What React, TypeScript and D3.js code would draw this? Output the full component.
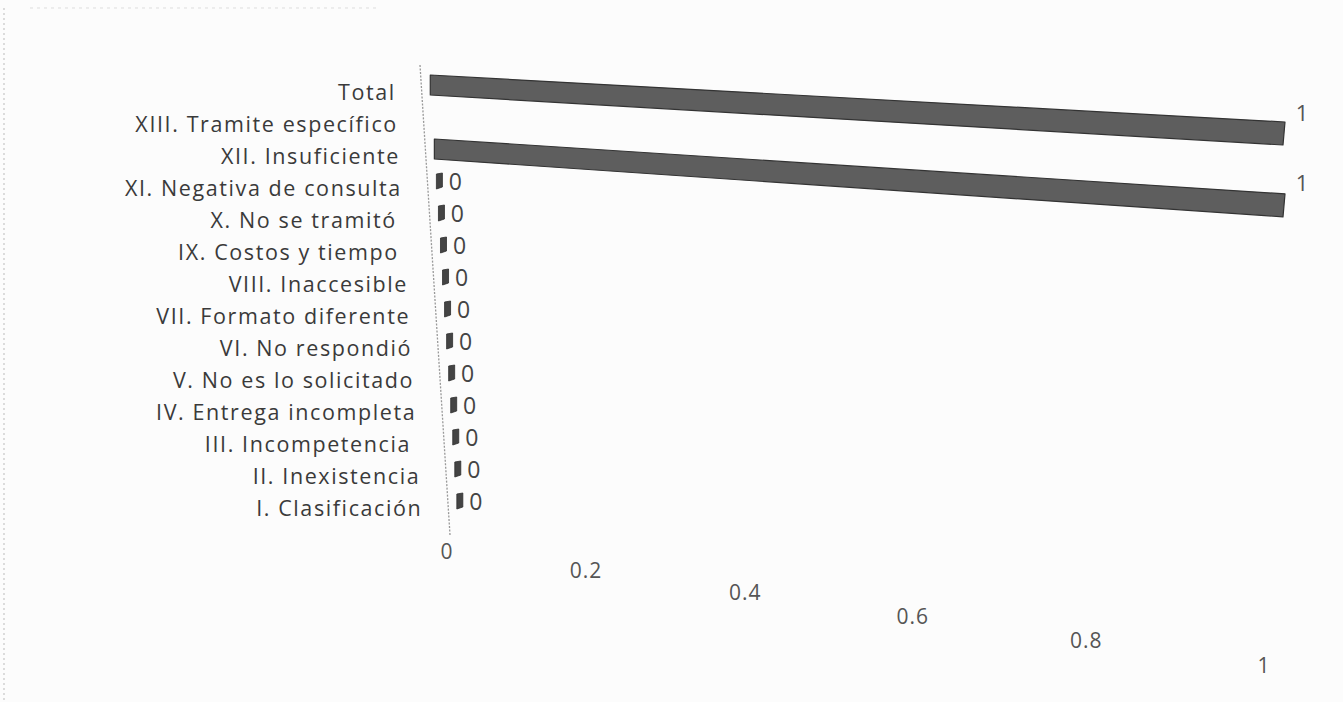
import React from "react";
import * as d3 from "d3";

const categories = [
  "Total",
  "XIII. Tramite específico",
  "XII. Insuficiente",
  "XI. Negativa de consulta",
  "X. No se tramitó ",
  "IX. Costos y tiempo ",
  "VIII. Inaccesible",
  "VII. Formato diferente",
  "VI. No respondió",
  "V. No es lo solicitado",
  "IV. Entrega incompleta",
  "III. Incompetencia ",
  "II. Inexistencia",
  "I. Clasificación",
];
const values: (number | null)[] = [1, null, 1, 0, 0, 0, 0, 0, 0, 0, 0, 0, 0, 0];
const tickValues = [0, 0.2, 0.4, 0.6, 0.8, 1];

const W = 1343;
const H = 702;

export default function App() {
  const y = d3.scalePoint<string>().domain(categories).range([85, 501]);
  const axisX = d3.scaleLinear().domain([65, 535]).range([420, 450]);
  const slopeAt = d3.scaleLinear().domain([85, 149]).range([0.055, 0.0645]);
  const barEnd = 1285;
  const barH = 20;

  const tickT = d3.scalePow().exponent(1.1).domain([0, 1]).range([0, 1]);
  const tickX = d3.scaleLinear().domain([0, 1]).range([447, 1264]);
  const tickY = d3.scaleLinear().domain([0, 1]).range([553, 667]);

  const font = "'Open Sans', 'DejaVu Sans', sans-serif";

  return (
    <div style={{ position: "absolute", left: 0, top: 0 }}>
      <svg width={W} height={H} style={{ display: "block", background: "#fcfcfc" }}>
        <line x1={4} y1={8} x2={4} y2={H} stroke="#bbb" strokeWidth={1} strokeDasharray="2 3" />
        <line x1={30} y1={8} x2={380} y2={8} stroke="#ddd" strokeWidth={1} strokeDasharray="3 4" />

        <line
          x1={axisX(65)}
          y1={65}
          x2={axisX(535)}
          y2={535}
          stroke="#999"
          strokeWidth={1.3}
          strokeDasharray="2 1.5"
        />

        {categories.map((c, i) => {
          const cy = y(c)!;
          const v = values[i];
          const left = axisX(cy) + 9;
          const xs = d3.scaleLinear().domain([0, 1]).range([left, barEnd]);
          const labelX = axisX(cy + 8) - 26;
          const elems: React.ReactNode[] = [
            <text
              key="lab"
              x={labelX}
              y={cy + 9}
              textAnchor="end"
              dominantBaseline="middle"
              fontFamily={font}
              fontSize={21.5}
              letterSpacing={1.6}
              fill="#3a3a3a"
              style={{ whiteSpace: "pre" }}
            >
              {c}
            </text>,
          ];
          if (v !== null) {
            if (v > 0) {
              const slope = slopeAt(cy);
              const x0 = xs(0);
              const x1 = xs(v);
              const dy = slope * (x1 - x0);
              const pts = [
                [x0, cy - barH / 2],
                [x1, cy - barH / 2 + dy],
                [x1 - 2, cy + barH / 2 + dy + 3],
                [x0, cy + barH / 2],
              ];
              elems.push(
                <polygon
                  key="bar"
                  points={pts.map((p) => p.join(",")).join(" ")}
                  fill="#5e5e5e"
                  stroke="#333"
                  strokeWidth={1.2}
                  strokeLinejoin="round"
                />
              );
              elems.push(
                <text
                  key="val"
                  x={x1 + 17}
                  y={cy + (i === 0 ? 30 : 36)}
                  textAnchor="middle"
                  dominantBaseline="middle"
                  fontFamily={font}
                  fontSize={22}
                  fill="#555"
                >
                  {v}
                </text>
              );
            } else {
              const x0 = xs(0);
              const w = 6;
              elems.push(
                <polygon
                  key="bar"
                  points={[
                    [x0, cy - 7],
                    [x0 + w, cy - 8],
                    [x0 + w, cy + 6],
                    [x0, cy + 8],
                  ]
                    .map((p) => p.join(","))
                    .join(" ")}
                  fill="#444"
                  stroke="#2e2e2e"
                  strokeWidth={0.8}
                />
              );
              elems.push(
                <text
                  key="val"
                  x={x0 + 19}
                  y={cy + 3}
                  textAnchor="middle"
                  dominantBaseline="middle"
                  fontFamily={font}
                  fontSize={23}
                  fill="#444"
                >
                  {v}
                </text>
              );
            }
          }
          return <g key={c}>{elems}</g>;
        })}

        {tickValues.map((t) => (
          <text
            key={t}
            x={tickX(tickT(t))}
            y={tickY(tickT(t))}
            textAnchor="middle"
            dominantBaseline="middle"
            fontFamily={font}
            fontSize={21}
            letterSpacing={1}
            fill="#555"
          >
            {String(t)}
          </text>
        ))}
      </svg>
    </div>
  );
}
